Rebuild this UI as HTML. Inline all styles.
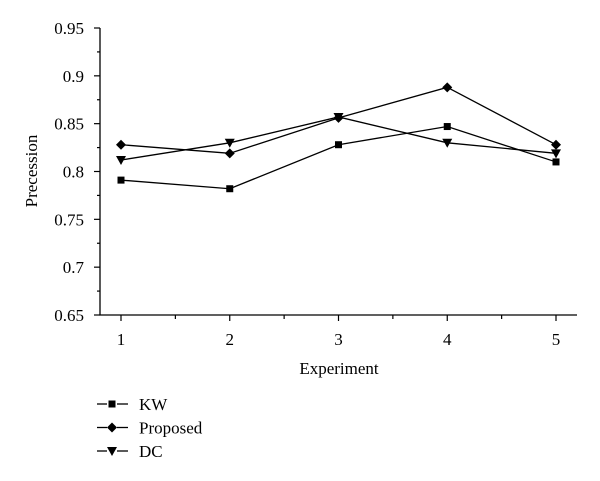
<!DOCTYPE html>
<html><head><meta charset="utf-8"><style>
body{margin:0;background:#fff;}
svg{display:block;font-family:"Liberation Serif",serif;}
</style></head><body>
<svg id="chart" width="600" height="481" viewBox="0 0 600 481"></svg>
<script>
const categories=[1,2,3,4,5];
const kwValues=[0.791,0.782,0.828,0.847,0.810];
const proposedValues=[0.828,0.819,0.856,0.888,0.828];
const dcValues=[0.812,0.830,0.857,0.830,0.819];
const yTicks=[0.65,0.7,0.75,0.8,0.85,0.9,0.95];
const yTickLabels=["0.65","0.7","0.75","0.8","0.85","0.9","0.95"];
const seriesNames=["KW","Proposed","DC"];

const NS="http://www.w3.org/2000/svg";
const svg=document.getElementById('chart');
function xs(v){return 121+(v-1)*108.75;}
function ys(v){return 315-(v-0.65)/0.3*287;}
function el(t,a,p){const e=document.createElementNS(NS,t);for(const k in a)e.setAttribute(k,a[k]);(p||svg).appendChild(e);return e;}

const axes=el('g',{});


el('line',{x1:100,y1:ys(0.95),x2:100,y2:315.5,stroke:'#000','stroke-width':1.3},axes);
el('line',{x1:99.5,y1:315,x2:577,y2:315,stroke:'#000','stroke-width':1.3},axes);
yTicks.forEach((t,i)=>{
  const y=ys(t);
  el('line',{x1:94,y1:y,x2:100,y2:y,stroke:'#000','stroke-width':1.2},axes);
  if(i<yTicks.length-1){const ym=ys(t+0.025);el('line',{x1:97,y1:ym,x2:100,y2:ym,stroke:'#000','stroke-width':1.2},axes);}
  const tx=el('text',{x:84,y:y+6,'font-size':17,'text-anchor':'end',fill:'#000'},axes);
  tx.textContent=yTickLabels[i];
  
  
});
categories.forEach((c,i)=>{
  const x=xs(c);
  el('line',{x1:x,y1:315,x2:x,y2:321,stroke:'#000','stroke-width':1.2},axes);
  if(i<categories.length-1){const xm=xs(c+0.5);el('line',{x1:xm,y1:315,x2:xm,y2:319,stroke:'#000','stroke-width':1.2},axes);}
  const tx=el('text',{x:x,y:345,'font-size':17,'text-anchor':'middle',fill:'#000'},axes);
  tx.textContent=c;
  
  
});
const xt=el('text',{x:339,y:374,'font-size':17,'text-anchor':'middle',fill:'#000'});
xt.textContent='Experiment';


const yt=el('text',{x:0,y:0,'font-size':17,'text-anchor':'middle',fill:'#000',transform:'translate(37,171) rotate(-90)'});
yt.textContent='Precession';



function marker(type,x,y,g){
  if(type===0) return el('rect',{x:x-3.5,y:y-3.5,width:7,height:7,fill:'#000'},g);
  if(type===1) return el('polygon',{points:`${x},${y-5} ${x+5},${y} ${x},${y+5} ${x-5},${y}`,fill:'#000'},g);
  return el('polygon',{points:`${x-5},${y-4} ${x+5},${y-4} ${x},${y+5}`,fill:'#000'},g);
}
const allSeries=[kwValues,proposedValues,dcValues];
allSeries.forEach((vals,si)=>{
  const g=el('g',{});
  
  
  el('polyline',{points:vals.map((v,i)=>xs(categories[i])+','+ys(v)).join(' '),fill:'none',stroke:'#000','stroke-width':1.3},g);
  vals.forEach((v,i)=>{
    const m=marker(si,xs(categories[i]),ys(v),g);
    
    
  });
  // legend
  const ly=404+si*23.5;
  const lg=el('g',{});
  
  
  el('line',{x1:97,y1:ly,x2:107,y2:ly,stroke:'#000','stroke-width':1.3},lg);
  el('line',{x1:117,y1:ly,x2:128,y2:ly,stroke:'#000','stroke-width':1.3},lg);
  marker(si,112,ly,lg);
  const t=el('text',{x:139,y:ly+6,'font-size':17,fill:'#000'},lg);
  t.textContent=seriesNames[si];
});
</script>
</body></html>
